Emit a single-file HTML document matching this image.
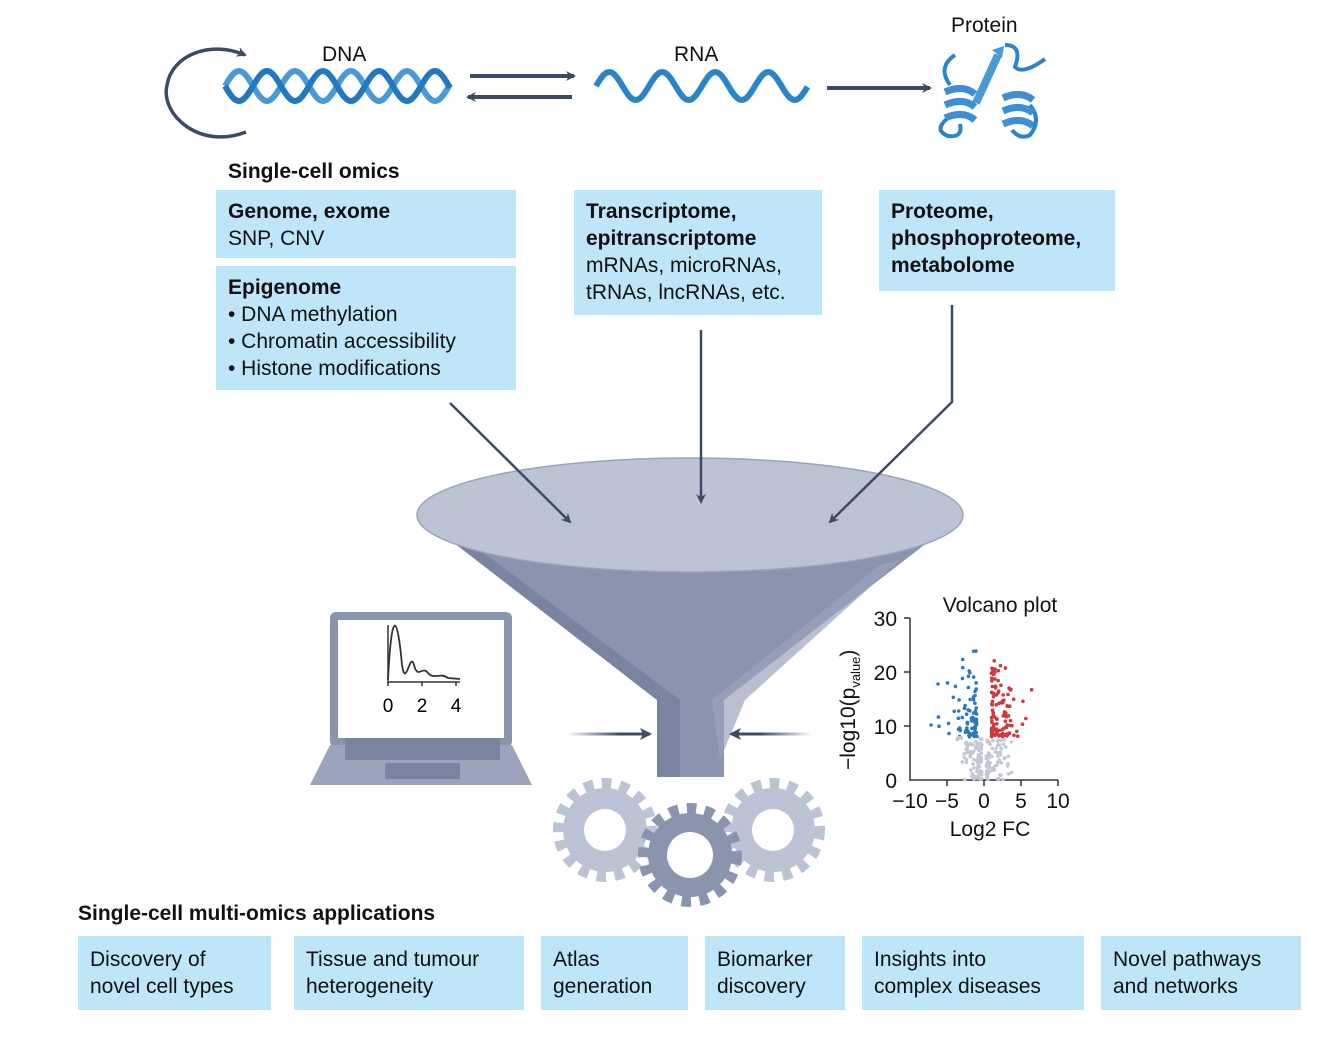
<!DOCTYPE html>
<html><head><meta charset="utf-8"><style>
body{margin:0;background:#fff;width:1322px;height:1042px;overflow:hidden;font-family:"Liberation Sans",sans-serif;color:#111}
.b{position:absolute;background:#bfe5f8;box-sizing:border-box;padding:8px 12px;font-size:21px;line-height:27px}
.t{position:absolute;font-size:21px}
b{font-weight:bold}
</style></head><body>
<svg width="1322" height="1042" style="position:absolute;left:0;top:0" xmlns="http://www.w3.org/2000/svg">
<defs>
<marker id="ah" markerWidth="10" markerHeight="10" refX="8" refY="5" orient="auto" markerUnits="userSpaceOnUse"><path d="M0,0 L10,5 L0,10 L3,5Z" fill="#3d4a66"/></marker>
<linearGradient id="fade" gradientUnits="userSpaceOnUse" x1="567" y1="0" x2="620" y2="0"><stop offset="0" stop-color="#3d4a66" stop-opacity="0"/><stop offset="1" stop-color="#3d4a66"/></linearGradient>
<linearGradient id="fadeR" gradientUnits="userSpaceOnUse" x1="812" y1="0" x2="760" y2="0"><stop offset="0" stop-color="#3d4a66" stop-opacity="0"/><stop offset="1" stop-color="#3d4a66"/></linearGradient>
</defs>
<path d="M246,132 C200,150 160,115 167,85 C172,55 210,40 245,55" fill="none" stroke="#3d4a66" stroke-width="3.5" marker-end="url(#ah)"/>
<g id="dna" fill="none" stroke-width="6"></g>
<path id="rna" fill="none" stroke="#2a84c8" stroke-width="6"/>
<line x1="470" y1="76" x2="574" y2="76" stroke="#3d4a66" stroke-width="4" marker-end="url(#ah)"/>
<line x1="572" y1="97" x2="468" y2="97" stroke="#3d4a66" stroke-width="4" marker-end="url(#ah)"/>
<line x1="827" y1="88" x2="930" y2="88" stroke="#3d4a66" stroke-width="4" marker-end="url(#ah)"/>
<g fill="none" stroke="#2a84c8" stroke-width="4">
<path d="M955,55 q-18,12 -5,30 M948,118 q-15,12 0,18 q15,2 12,-12"/>
<path d="M1005,45 q18,0 10,22 q8,8 30,-8 M1030,105 q12,15 0,30 q-10,5 -18,-5"/>
</g>
<path d="M998,55 l-22,48" stroke-width="8" stroke="#4a9ad6"/>
<path d="M992,50 l12,-4 l-2,12z" fill="#4a9ad6"/>
<g fill="none" stroke-width="7">
<path d="M945,92 q18,-8 30,2 M945,105 q18,-8 30,2 M945,118 q18,-8 30,2" stroke="#3b8fd2"/>
<path d="M1003,98 q18,-8 30,2 M1003,111 q18,-8 30,2 M1003,124 q18,-8 30,2" stroke="#3b8fd2"/>
</g>
<path d="M418,515 L657,700 L657,777 L724,777 L724,700 L963,515 Z" fill="#8a94ad"/>
<path d="M418,515 L657,700 L657,777 L680,777 L680,700 L440,520Z" fill="#7a84a0"/>
<path d="M900,560 L745,700 L720,760 L712,700 L880,565Z" fill="#9ba4bb" opacity="0.7"/>
<ellipse cx="690" cy="515" rx="273" ry="57" fill="#bcc3d4" stroke="#9aa3ba" stroke-width="1.5"/>
<line x1="450" y1="403" x2="570" y2="522" stroke="#3d4a66" stroke-width="2.5" marker-end="url(#ah)"/>
<line x1="701" y1="330" x2="701" y2="502" stroke="#3d4a66" stroke-width="2.5" marker-end="url(#ah)"/>
<polyline points="952,305 952,402 830,522" fill="none" stroke="#3d4a66" stroke-width="2.5" marker-end="url(#ah)"/>
<line x1="567" y1="734" x2="650" y2="734" stroke="url(#fade)" stroke-width="3"/>
<path d="M640,728 L652,734 L640,740 L643,734Z" fill="#3d4a66"/>
<line x1="812" y1="734" x2="731" y2="734" stroke="url(#fadeR)" stroke-width="3"/>
<path d="M741,728 L729,734 L741,740 L738,734Z" fill="#3d4a66"/>
<rect x="330" y="612" width="182" height="135" rx="6" fill="#8a94ad"/>
<rect x="338" y="620" width="166" height="118" fill="#fff"/>
<path d="M310,785 L330,745 L512,745 L532,785Z" fill="#9ba4bb"/>
<rect x="345" y="738" width="155" height="22" fill="#7a84a0"/>
<rect x="385" y="763" width="75" height="16" fill="#7a84a0"/>
<path d="M388,625 L388,682 L460,682" fill="none" stroke="#333" stroke-width="1.5"/>
<path d="M388,680 C392,600 398,620 402,665 C406,690 410,650 414,665 C418,680 422,665 428,673 C434,680 440,672 448,678 L460,679" fill="none" stroke="#333" stroke-width="1.8"/>
<path d="M388,682v4 M422,682v4 M456,682v4" stroke="#333" stroke-width="1.5"/>
<text x="388" y="712" font-size="19" text-anchor="middle" font-family="Liberation Sans">0</text>
<text x="422" y="712" font-size="19" text-anchor="middle" font-family="Liberation Sans">2</text>
<text x="456" y="712" font-size="19" text-anchor="middle" font-family="Liberation Sans">4</text>
<g>
<circle cx="605" cy="830" r="42" fill="#bcc3d4"/>
<circle cx="605" cy="830" r="44" fill="none" stroke="#bcc3d4" stroke-width="16" stroke-dasharray="9 8"/>
<circle cx="605" cy="830" r="21" fill="#fff"/>
<circle cx="773" cy="830" r="42" fill="#bcc3d4"/>
<circle cx="773" cy="830" r="44" fill="none" stroke="#bcc3d4" stroke-width="16" stroke-dasharray="9 8"/>
<circle cx="773" cy="830" r="21" fill="#fff"/>
<circle cx="690" cy="855" r="42" fill="#8a94ad"/>
<circle cx="690" cy="855" r="44" fill="none" stroke="#8a94ad" stroke-width="16" stroke-dasharray="9 8"/>
<circle cx="690" cy="855" r="23" fill="#fff"/>
</g>
<g font-family="Liberation Sans" font-size="21" fill="#111">
<path d="M910,618 V780 H1058 M904,618h6 M904,672h6 M904,726h6 M947,780v6 M984,780v6 M1021,780v6 M1058,780v6" stroke="#333" stroke-width="1.5" fill="none"/>
<text x="897" y="626" text-anchor="end">30</text>
<text x="897" y="680" text-anchor="end">20</text>
<text x="897" y="734" text-anchor="end">10</text>
<text x="897" y="788" text-anchor="end">0</text>
<text x="910" y="808" text-anchor="middle">−10</text>
<text x="947" y="808" text-anchor="middle">−5</text>
<text x="984" y="808" text-anchor="middle">0</text>
<text x="1021" y="808" text-anchor="middle">5</text>
<text x="1058" y="808" text-anchor="middle">10</text>
<text x="990" y="836" text-anchor="middle">Log2 FC</text>
<text x="1000" y="612" text-anchor="middle">Volcano plot</text>
<text transform="translate(855,770) rotate(-90)">−log10(p<tspan font-size="13" dy="5">value</tspan><tspan dy="-5">)</tspan></text>
<g id="dots"></g>
</g>
</svg>
<script>
(function(){
function wave(x0,x1,cy,amp,per,ph){var d='';for(var x=x0;x<=x1;x+=1.5){var y=cy+amp*Math.sin((x-x0)/per*2*Math.PI+ph);d+=(d?'L':'M')+x.toFixed(1)+','+y.toFixed(1);}return d;}
var dna=document.getElementById('dna');
dna.innerHTML='<path d="'+wave(225,450,86,15,56,Math.PI)+'" stroke="#4a9ad6"/><path d="'+wave(225,450,86,15,56,0)+'" stroke="#1f78c1"/>';
document.getElementById('rna').setAttribute('d',wave(596,808,86,14,53,Math.PI));
var g=document.getElementById('dots'),s=7,h='';function r(){s=(s*16807)%2147483647;return s/2147483647;}
for(var i=0;i<360;i++){var side=r()<0.5?-1:1;var y,x,c;
if(r()<0.45){y=r()*8;x=side*(0.3+r()*r()*4);c='#c3c8d4';}
else{y=8+r()*r()*17;x=side*(1+r()*r()*3+(r()<0.2?r()*4:0));c=side<0?'#2a78bd':'#cc3a3f';}
h+='<circle cx="'+(984+x*7.4).toFixed(1)+'" cy="'+(780-y*5.4).toFixed(1)+'" r="1.8" fill="'+c+'"/>';}
g.innerHTML=h;})();
</script>
<div class="t" style="left:322px;top:43px">DNA</div>
<div class="t" style="left:674px;top:43px">RNA</div>
<div class="t" style="left:951px;top:14px">Protein</div>
<div class="t" style="left:228px;top:160px;font-weight:bold">Single-cell omics</div>
<div class="b" style="left:216px;top:190px;width:300px;height:68px;padding-top:8px"><b>Genome, exome</b><br>SNP, CNV</div>
<div class="b" style="left:216px;top:266px;width:300px;height:124px"><b>Epigenome</b><br>• DNA methylation<br>• Chromatin accessibility<br>• Histone modifications</div>
<div class="b" style="left:574px;top:190px;width:248px;height:125px"><b>Transcriptome,<br>epitranscriptome</b><br>mRNAs, microRNAs,<br>tRNAs, lncRNAs, etc.</div>
<div class="b" style="left:879px;top:190px;width:236px;height:101px"><b>Proteome,<br>phosphoproteome,<br>metabolome</b></div>
<div class="t" style="left:78px;top:902px;font-weight:bold">Single-cell multi-omics applications</div>
<div class="b" style="left:78px;top:936px;width:193px;height:74px;padding-top:10px">Discovery of<br>novel cell types</div>
<div class="b" style="left:294px;top:936px;width:230px;height:74px;padding-top:10px">Tissue and tumour<br>heterogeneity</div>
<div class="b" style="left:541px;top:936px;width:147px;height:74px;padding-top:10px">Atlas<br>generation</div>
<div class="b" style="left:705px;top:936px;width:140px;height:74px;padding-top:10px">Biomarker<br>discovery</div>
<div class="b" style="left:862px;top:936px;width:222px;height:74px;padding-top:10px">Insights into<br>complex diseases</div>
<div class="b" style="left:1101px;top:936px;width:200px;height:74px;padding-top:10px">Novel pathways<br>and networks</div>
</body></html>
